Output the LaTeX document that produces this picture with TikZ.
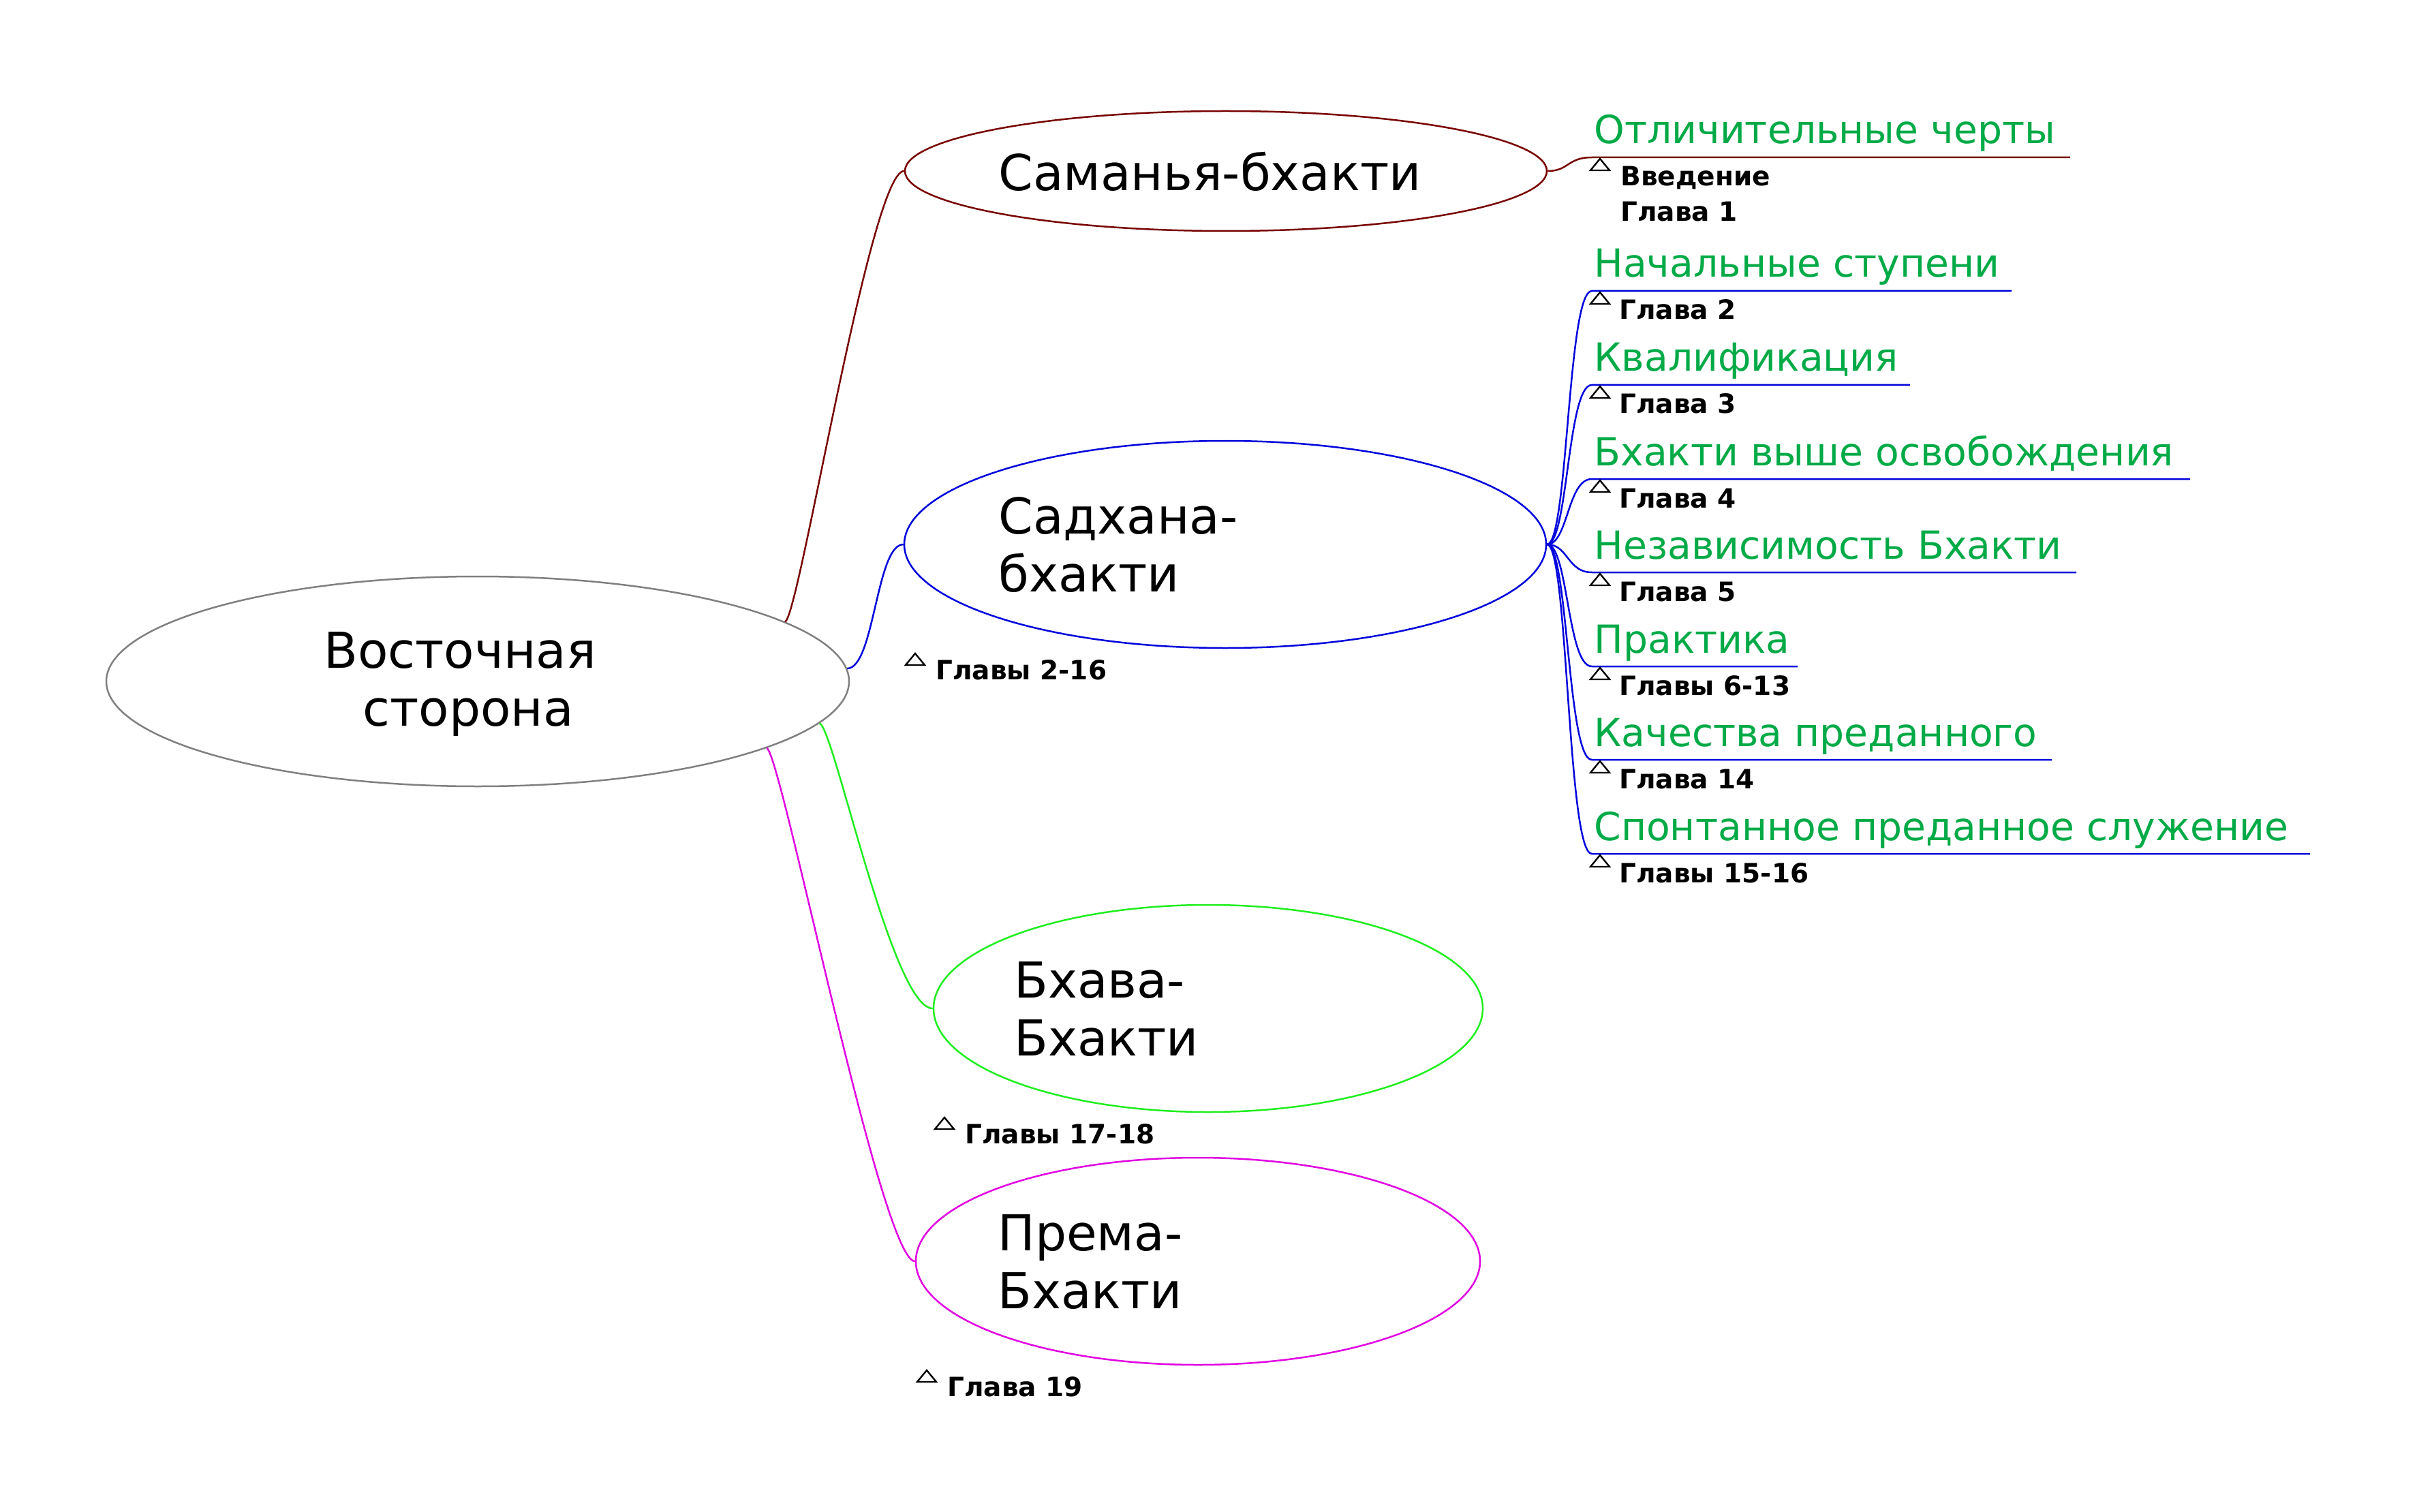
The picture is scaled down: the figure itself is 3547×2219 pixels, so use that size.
\documentclass[tikz,border=0pt]{standalone}
\usepackage{fontspec}
\setmainfont{DejaVu Sans}
\usetikzlibrary{shapes.geometric}
\definecolor{lblgreen}{RGB}{0,170,70}
\definecolor{cmaroon}{RGB}{120,0,0}
\definecolor{cblue}{RGB}{0,0,220}
\definecolor{cgreen}{RGB}{30,238,30}
\definecolor{cmagenta}{RGB}{225,0,225}
\definecolor{cgray}{RGB}{128,128,128}
\begin{document}
\begin{tikzpicture}[x=0.5pt,y=-0.5pt,
  ell/.style={ellipse, draw, line width=1.25pt, inner sep=0pt},
  big/.style={font=\fontsize{36.3pt}{43pt}\selectfont, inner sep=0pt, anchor=base west},
  bigc/.style={font=\fontsize{36.3pt}{43pt}\selectfont, inner sep=0pt, anchor=base},
  grn/.style={font=\fontsize{28.4pt}{34pt}\selectfont, text=lblgreen, inner sep=0pt, anchor=base west},
  chap/.style={font=\bfseries\fontsize{19.5pt}{23pt}\selectfont, inner sep=0pt, anchor=base west},
  tri/.style={draw=black, line width=1.2pt, line join=miter},
  conn/.style={line width=1.25pt},
  uline/.style={line width=1.4pt}]
\path[use as bounding box] (0,0) rectangle (3547,2219);

% ellipses
\node[ell, draw=cgray, minimum width=545pt, minimum height=154pt] (root) at (701,1000) {};
\node[ell, draw=cmaroon, minimum width=471pt, minimum height=88pt] (saman) at (1799,251) {};
\node[ell, draw=cblue, minimum width=471pt, minimum height=152pt] (sadhana) at (1798,799) {};
\node[ell, draw=cgreen, minimum width=403pt, minimum height=152pt] (bhava) at (1773,1480) {};
\node[ell, draw=cmagenta, minimum width=414pt, minimum height=152pt] (prema) at (1758,1851) {};

% ellipse texts
\node[bigc] (rootT1) at (675,980) {Восточная};
\node[bigc] (rootT2) at (687,1065) {сторона};
\node[big] (samanT) at (1465,280) {Саманья-бхакти};
\node[big] (sadT1) at (1465,783) {Садхана-};
\node[big] (sadT2) at (1465,868) {бхакти};
\node[big] (bhaT1) at (1488,1464) {Бхава-};
\node[big] (bhaT2) at (1488,1549) {Бхакти};
\node[big] (preT1) at (1464,1835) {Према-};
\node[big] (preT2) at (1464,1920) {Бхакти};

% main connectors
\draw[conn, draw=cmaroon] (root.11.6) .. controls +(20,0) and +(-50,0) .. (saman.west);
\draw[conn, draw=cblue] (root.2.87) .. controls +(40,0) and +(-40,0) .. (sadhana.west);
\draw[conn, draw=cgreen] (root.-7.2) .. controls +(20,0) and +(-60,0) .. (bhava.west);
\draw[conn, draw=cmagenta] (root.-13.2) .. controls +(20,0) and +(-50,0) .. (prema.west);

% chapter labels under ellipses
\coordinate (tS) at (1329,976);
\draw[tri] (tS) -- ++(28,0) -- ++(-14,-17) -- cycle;
\node[chap] (chS) at (1373,997) {Главы 2-16};
\coordinate (tB) at (1372,1657);
\draw[tri] (tB) -- ++(28,0) -- ++(-14,-17) -- cycle;
\node[chap] (chB) at (1416,1678) {Главы 17-18};
\coordinate (tP) at (1346,2028);
\draw[tri] (tP) -- ++(28,0) -- ++(-14,-17) -- cycle;
\node[chap] (chP) at (1390,2049) {Глава 19};

% underline coordinates
\coordinate (u1s) at (2336,231);  \coordinate (u1e) at (3038,231);
\coordinate (u2s) at (2336,427);  \coordinate (u2e) at (2952,427);
\coordinate (u3s) at (2336,565);  \coordinate (u3e) at (2803,565);
\coordinate (u4s) at (2336,703);  \coordinate (u4e) at (3214,703);
\coordinate (u5s) at (2336,840);  \coordinate (u5e) at (3047,840);
\coordinate (u6s) at (2336,978);  \coordinate (u6e) at (2638,978);
\coordinate (u7s) at (2336,1115); \coordinate (u7e) at (3011,1115);
\coordinate (u8s) at (2336,1253); \coordinate (u8e) at (3390,1253);

% branches
\draw[conn, draw=cmaroon] (saman.east) .. controls +(31,0) and +(-36,0) .. (u1s) -- (u1e);
\draw[conn, draw=cblue] (sadhana.east) .. controls +(31,0) and +(-36,0) .. (u2s) -- (u2e);
\draw[conn, draw=cblue] (sadhana.east) .. controls +(31,0) and +(-36,0) .. (u3s) -- (u3e);
\draw[conn, draw=cblue] (sadhana.east) .. controls +(31,0) and +(-36,0) .. (u4s) -- (u4e);
\draw[conn, draw=cblue] (sadhana.east) .. controls +(31,0) and +(-36,0) .. (u5s) -- (u5e);
\draw[conn, draw=cblue] (sadhana.east) .. controls +(31,0) and +(-36,0) .. (u6s) -- (u6e);
\draw[conn, draw=cblue] (sadhana.east) .. controls +(31,0) and +(-36,0) .. (u7s) -- (u7e);
\draw[conn, draw=cblue] (sadhana.east) .. controls +(31,0) and +(-36,0) .. (u8s) -- (u8e);

% green labels
\node[grn] (g1) at (2339,211) {Отличительные черты};
\node[grn] (g2) at (2339,407) {Начальные ступени};
\node[grn] (g3) at (2339,545) {Квалификация};
\node[grn] (g4) at (2339,683) {Бхакти выше освобождения};
\node[grn] (g5) at (2339,820) {Независимость Бхакти};
\node[grn] (g6) at (2339,958) {Практика};
\node[grn] (g7) at (2339,1095) {Качества преданного};
\node[grn] (g8) at (2339,1233) {Спонтанное преданное служение};

% chapter labels on the right
\coordinate (t1) at (2334,250);
\draw[tri] (t1) -- ++(28,0) -- ++(-14,-17) -- cycle;
\node[chap] (c1a) at (2378,273) {Введение};
\node[chap] (c1b) at (2378,325) {Глава 1};

\coordinate (t2) at (2334,446);
\draw[tri] (t2) -- ++(28,0) -- ++(-14,-17) -- cycle;
\node[chap] (c2) at (2376,469) {Глава 2};
\coordinate (t3) at (2334,584);
\draw[tri] (t3) -- ++(28,0) -- ++(-14,-17) -- cycle;
\node[chap] (c3) at (2376,607) {Глава 3};
\coordinate (t4) at (2334,722);
\draw[tri] (t4) -- ++(28,0) -- ++(-14,-17) -- cycle;
\node[chap] (c4) at (2376,745) {Глава 4};
\coordinate (t5) at (2334,859);
\draw[tri] (t5) -- ++(28,0) -- ++(-14,-17) -- cycle;
\node[chap] (c5) at (2376,882) {Глава 5};
\coordinate (t6) at (2334,997);
\draw[tri] (t6) -- ++(28,0) -- ++(-14,-17) -- cycle;
\node[chap] (c6) at (2376,1020) {Главы 6-13};
\coordinate (t7) at (2334,1134);
\draw[tri] (t7) -- ++(28,0) -- ++(-14,-17) -- cycle;
\node[chap] (c7) at (2376,1157) {Глава 14};
\coordinate (t8) at (2334,1272);
\draw[tri] (t8) -- ++(28,0) -- ++(-14,-17) -- cycle;
\node[chap] (c8) at (2376,1295) {Главы 15-16};
\end{tikzpicture}
\end{document}
